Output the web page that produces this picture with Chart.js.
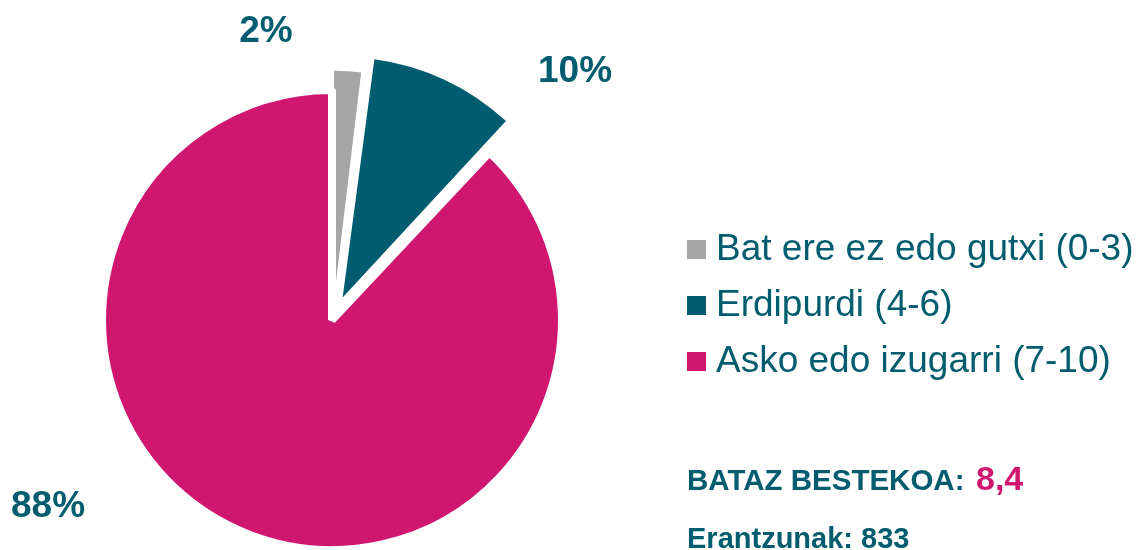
<!DOCTYPE html>
<html>
<head>
<meta charset="utf-8">
<script src="https://cdn.jsdelivr.net/npm/chart.js@4.4.1/dist/chart.umd.min.js"></script>
<style>
  html, body { margin: 0; padding: 0; background: #ffffff; }
  body { width: 1138px; height: 550px; position: relative; overflow: hidden;
         font-family: "Liberation Sans", Arial, sans-serif; color: #005C6E; }
  #chart { position: absolute; left: 0; top: 0; }
  .leg { position: absolute; left: 687px; font-size: 37px; line-height: 37px; white-space: nowrap; }
  .leg .sw { position: absolute; left: 0; width: 19px; height: 19px; }
  .leg .tx { position: absolute; left: 29px; top: 0; }
  .sum { position: absolute; font-weight: bold; white-space: nowrap; line-height: 1; }
</style>
</head>
<body>
<canvas id="chart" width="1138" height="550"></canvas>
<div id="legend"></div>
<div class="sum" id="avgLabel" style="left:687px; top:465px; font-size:29.5px;"></div>
<div class="sum" id="avgValue" style="left:976px; top:461px; font-size:34px; color:#D0176F;"></div>
<div class="sum" id="responses" style="left:687px; top:523.5px; font-size:29px;"></div>
<script>
// ---- data ----
const categories = ['Bat ere ez edo gutxi (0-3)', 'Erdipurdi (4-6)', 'Asko edo izugarri (7-10)'];
const percentages = [2, 10, 88];
const averageLabel = 'BATAZ BESTEKOA:';
const averageValue = '8,4';
const responsesLabel = 'Erantzunak: 833';

// ---- styles ----
const sliceColors = ['#A6A6A6', '#005C6E', '#D0176F'];
const textColor = '#005C6E';
const sliceOffsets = [41, 100, 0];
const sliceBorders = [0, 0, 8];
// label anchors relative to pie centre (text centre x, baseline y)
const labelAnchors = [
  { dx: -66, dy: -278 },
  { dx: 243, dy: -238 },
  { dx: -284, dy: 197 }
];

const pctLabelPlugin = {
  id: 'pctLabels',
  afterDatasetsDraw(chart) {
    const meta = chart.getDatasetMeta(0);
    if (!meta.data.length) return;
    const cx = meta.data[0].x, cy = meta.data[0].y;
    const ctx = chart.ctx;
    ctx.save();
    ctx.font = 'bold 37px "Liberation Sans", Arial, sans-serif';
    ctx.fillStyle = textColor;
    ctx.textAlign = 'center';
    ctx.textBaseline = 'alphabetic';
    percentages.forEach((v, i) => {
      ctx.fillText(v + '%', cx + labelAnchors[i].dx, cy + labelAnchors[i].dy);
    });
    ctx.restore();
  }
};

new Chart(document.getElementById('chart'), {
  type: 'pie',
  data: {
    labels: categories,
    datasets: [{
      data: percentages,
      backgroundColor: sliceColors,
      borderColor: '#ffffff',
      borderWidth: sliceBorders,
      borderJoinStyle: 'bevel',
      offset: sliceOffsets,
      hoverOffset: 0,
      radius: 230
    }]
  },
  options: {
    responsive: false,
    animation: false,
    events: [],
    layout: { padding: { left: 2, right: 476, top: 90, bottom: 0 } },
    plugins: { legend: { display: false }, tooltip: { enabled: false } }
  },
  plugins: [pctLabelPlugin]
});

// ---- HTML legend and summary ----
const legend = document.getElementById('legend');
const legendBaselines = [260, 316, 372];
categories.forEach((c, i) => {
  const row = document.createElement('div');
  row.className = 'leg';
  row.style.top = (legendBaselines[i] - 31.3) + 'px';
  const sw = document.createElement('span');
  sw.className = 'sw';
  sw.style.background = sliceColors[i];
  sw.style.top = '11.3px';
  const tx = document.createElement('span');
  tx.className = 'tx';
  tx.textContent = c;
  row.appendChild(sw);
  row.appendChild(tx);
  legend.appendChild(row);
});
document.getElementById('avgLabel').textContent = averageLabel;
document.getElementById('avgValue').textContent = averageValue;
document.getElementById('responses').textContent = responsesLabel;
</script>
</body>
</html>
